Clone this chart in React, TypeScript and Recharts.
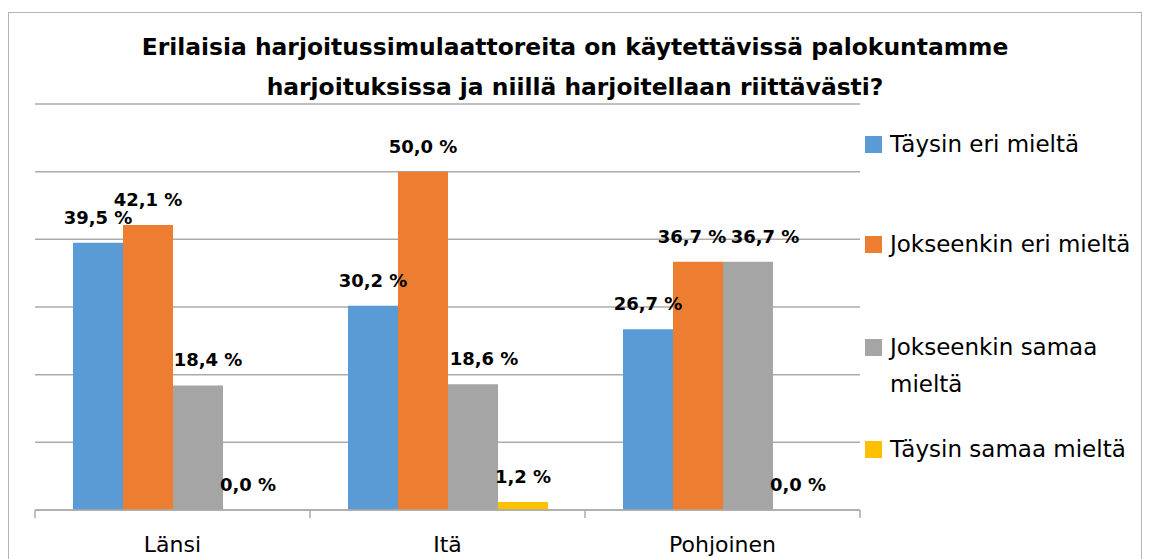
import { BarChart, Bar, XAxis, YAxis, CartesianGrid, LabelList } from 'recharts'

// ─── Data ─────────────────────────────────────────────────────────────────────

const CATEGORIES = ['Länsi', 'Itä', 'Pohjoinen']
const TAYSIN_ERI = [39.5, 30.2, 26.7]
const JOKSEENKIN_ERI = [42.1, 50.0, 36.7]
const JOKSEENKIN_SAMAA = [18.4, 18.6, 36.7]
const TAYSIN_SAMAA = [0.0, 1.2, 0.0]
const Y_TICKS = [0, 10, 20, 30, 40, 50, 60]

const TITLE_LINES = [
  'Erilaisia harjoitussimulaattoreita on käytettävissä palokuntamme',
  'harjoituksissa ja niillä harjoitellaan riittävästi?',
]

const SERIES = [
  { key: 'taysinEri', name: 'Täysin eri mieltä', color: '#5B9BD5', values: TAYSIN_ERI },
  { key: 'jokseenkinEri', name: 'Jokseenkin eri mieltä', color: '#ED7D31', values: JOKSEENKIN_ERI },
  { key: 'jokseenkinSamaa', name: 'Jokseenkin samaa mieltä', color: '#A5A5A5', values: JOKSEENKIN_SAMAA },
  { key: 'taysinSamaa', name: 'Täysin samaa mieltä', color: '#FFC000', values: TAYSIN_SAMAA },
]

const data = CATEGORIES.map((name, i) => {
  const row: Record<string, string | number> = { name }
  for (const s of SERIES) row[s.key] = s.values[i]
  return row
})

// ─── Styling ──────────────────────────────────────────────────────────────────

const FONT = '"DejaVu Sans", sans-serif'
const GRID = '#ababab'

// Excel nudged some labels sideways to avoid collisions
const LABEL_NUDGE: Record<string, number[]> = {
  taysinEri: [0, 0, 0],
  jokseenkinEri: [0, 0, -6],
  jokseenkinSamaa: [10, 11, 17],
  taysinSamaa: [0, 0, 0],
}
const LEGEND_TOPS = [126, 226, 329, 431]

function fmtPct(v: number) {
  return `${v.toFixed(1).replace('.', ',')} %`
}

function makeLabel(key: string) {
  return (props: any) => {
    const { x, y, width, value, index } = props
    return (
      <text x={Number(x) + Number(width) / 2 + LABEL_NUDGE[key][index]} y={Number(y) - 19}
        textAnchor="middle" fontFamily={FONT} fontSize={18} fontWeight={700} fill="#000">
        {fmtPct(Number(value))}
      </text>
    )
  }
}

// category label plus tick marks on the category boundaries (Excel style)
function CategoryTick(props: any) {
  const { x, y, payload, index, visibleTicksCount } = props
  const half = payload?.offset ?? 0
  const isLast = index === (visibleTicksCount ?? CATEGORIES.length) - 1
  return (
    <g>
      <line x1={x - half} x2={x - half} y1={y} y2={y + 8} stroke={GRID} strokeWidth={1.5} />
      {isLast && <line x1={x + half} x2={x + half} y1={y} y2={y + 8} stroke={GRID} strokeWidth={1.5} />}
      <text x={x} y={y + 42} textAnchor="middle" fontFamily={FONT} fontSize={22} fill="#000">
        {payload.value}
      </text>
    </g>
  )
}

// ─── Component ────────────────────────────────────────────────────────────────

export default function App() {
  return (
    <div style={{ position: 'absolute', left: 0, top: 0, width: 1152, height: 559, overflow: 'hidden', background: '#fff' }}>
      <div style={{
        position: 'absolute', left: 8, top: 12, width: 1134, height: 600,
        border: '1px solid #b4b4b4', boxSizing: 'border-box',
      }} />

      <div style={{
        position: 'absolute', left: 0, top: 27, width: 1150, textAlign: 'center',
        fontFamily: FONT, fontWeight: 700, fontSize: 23.4, lineHeight: '40px', color: '#000',
      }}>
        {TITLE_LINES.map((l) => <div key={l}>{l}</div>)}
      </div>

      <div style={{ position: 'absolute', left: 0, top: 0 }}>
        <BarChart width={1152} height={559} data={data}
          margin={{ top: 104, right: 292, bottom: 4, left: 35 }} barGap={0}>
          <CartesianGrid vertical={false} stroke={GRID} strokeWidth={1.5} />
          <YAxis hide domain={[0, 60]} ticks={Y_TICKS} />
          <XAxis dataKey="name" height={45} tickLine={false} tickSize={0} tickMargin={0}
            axisLine={{ stroke: GRID, strokeWidth: 1.5 }} tick={<CategoryTick />} interval={0} />
          {SERIES.map((s) => (
            <Bar key={s.key} dataKey={s.key} name={s.name} fill={s.color} barSize={50}
              minPointSize={0.01} isAnimationActive={false}>
              <LabelList dataKey={s.key} content={makeLabel(s.key)} />
            </Bar>
          ))}
        </BarChart>
      </div>

      {SERIES.map((s, i) => (
        <div key={s.key} style={{
          position: 'absolute', left: 865, top: LEGEND_TOPS[i], width: 278,
          fontFamily: FONT, fontSize: 23, lineHeight: '37px', color: '#000',
          display: 'flex', alignItems: 'flex-start',
        }}>
          <span style={{ width: 17, height: 17, marginTop: 10, background: s.color, flexShrink: 0 }} />
          <span style={{ marginLeft: 8, width: 250 }}>{s.name}</span>
        </div>
      ))}
    </div>
  )
}
